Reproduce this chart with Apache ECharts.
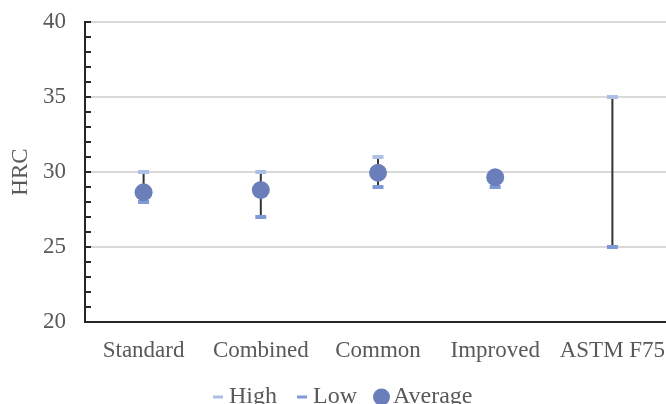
<!DOCTYPE html>
<html>
<head>
<meta charset="utf-8">
<script src="https://cdn.jsdelivr.net/npm/echarts@6/dist/echarts.min.js"></script>
<style>
  html, body { margin: 0; padding: 0; background: #fff; }
  #chart { width: 666px; height: 404px; }
</style>
</head>
<body>
<div id="chart"></div>
<script>
// Hardness (HRC) per alloy: high / low range and average
const categories = ['Standard', 'Combined', 'Common', 'Improved', 'ASTM F75'];
const highValues = [30, 30, 31, 30, 35];
const lowValues = [28, 27, 29, 29, 25];
const averageValues = [28.65, 28.8, 29.95, 29.65, null];
const yTicks = { min: 20, max: 40, step: 5 };

const FONT = '"Liberation Serif", "Times New Roman", serif';
const TEXT = '#595959';
const FS = 23;
const LEGEND_FS = 24;

const legendText = { fontFamily: FONT, fontSize: LEGEND_FS, color: TEXT };

const chart = echarts.init(document.getElementById('chart'));

chart.setOption({
  animation: false,
  backgroundColor: '#ffffff',
  textStyle: { fontFamily: FONT },
  grid: {
    left: 85, top: 22, width: 586, height: 300,
    outerBoundsMode: 'none',
    containLabel: false,
    show: true, borderColor: '#262626', borderWidth: 2
  },
  legend: [
    {
      data: ['High'], left: 208, top: 380,
      icon: 'rect', itemWidth: 10, itemHeight: 3,
      textStyle: Object.assign({ padding: [0, 0, 0, 1] }, legendText)
    },
    {
      data: ['Low'], left: 292, top: 380,
      icon: 'rect', itemWidth: 10, itemHeight: 3,
      textStyle: Object.assign({ padding: [0, 0, 0, 1] }, legendText)
    },
    {
      data: ['Average'], left: 368, top: 380,
      icon: 'circle', itemWidth: 17, itemHeight: 17,
      textStyle: Object.assign({ padding: [0, 0, 0, -2] }, legendText)
    }
  ],
  xAxis: {
    type: 'category',
    data: categories,
    boundaryGap: true,
    axisLine: { lineStyle: { color: '#262626', width: 2 } },
    axisTick: { show: false },
    axisLabel: { fontFamily: FONT, fontSize: FS, color: TEXT, margin: 17, interval: 0 },
    splitLine: { show: false }
  },
  yAxis: {
    type: 'value',
    min: yTicks.min, max: yTicks.max, interval: yTicks.step,
    name: 'HRC',
    nameLocation: 'middle',
    nameGap: 46,
    nameRotate: 90,
    nameTextStyle: { fontFamily: FONT, fontSize: FS, color: TEXT },
    axisLine: { show: true, lineStyle: { color: '#262626', width: 2 } },
    axisTick: { show: true, inside: true, length: 6, lineStyle: { color: '#262626', width: 2 } },
    minorTick: { show: true, splitNumber: 5, length: 6, lineStyle: { color: '#262626', width: 2 } },
    axisLabel: { fontFamily: FONT, fontSize: FS, color: TEXT, margin: 19 },
    splitLine: { show: true, lineStyle: { color: '#d9d9d9', width: 2 } }
  },
  series: [
    {
      // vertical high-low line for each category
      name: 'range',
      type: 'custom',
      data: categories.map((c, i) => [i, highValues[i], lowValues[i]]),
      encode: { x: 0, y: [1, 2] },
      renderItem: function (params, api) {
        const top = api.coord([api.value(0), api.value(1)]);
        const bottom = api.coord([api.value(0), api.value(2)]);
        return {
          type: 'line',
          shape: { x1: top[0], y1: top[1], x2: bottom[0], y2: bottom[1] },
          style: { stroke: '#333333', lineWidth: 2 }
        };
      },
      z: 2
    },
    {
      name: 'High',
      type: 'scatter',
      data: highValues,
      symbol: 'rect',
      symbolSize: [11, 4],
      itemStyle: { color: '#aebfe6', opacity: 1 },
      z: 3
    },
    {
      name: 'Low',
      type: 'scatter',
      data: lowValues,
      symbol: 'rect',
      symbolSize: [11, 4],
      itemStyle: { color: '#7f98d6', opacity: 1 },
      z: 3
    },
    {
      name: 'Average',
      type: 'scatter',
      data: averageValues,
      symbol: 'circle',
      symbolSize: 18,
      itemStyle: { color: '#6a7fb9', opacity: 1 },
      z: 4
    }
  ]
});
</script>
</body>
</html>
